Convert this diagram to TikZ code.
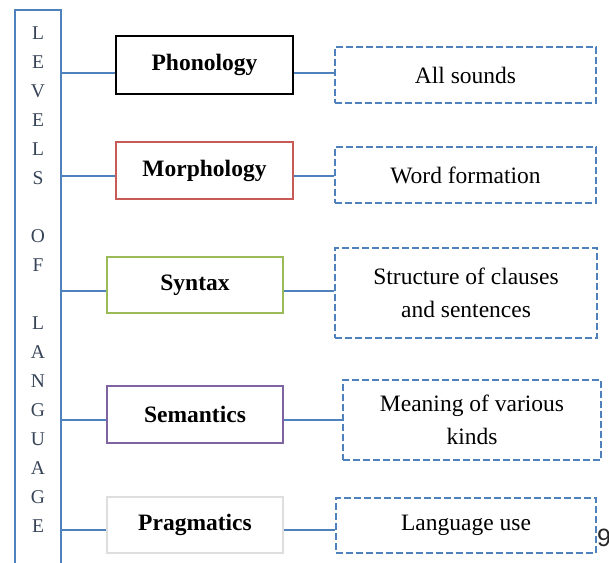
\documentclass[tikz,border=0pt]{standalone}
\usepackage{fontspec}
\setmainfont{Liberation Serif}
\newfontfamily\pagefont{Liberation Sans}
\begin{document}
\begin{tikzpicture}[x=1pt,y=-1pt,
  spinebox/.style={draw=lblue, line width=2.4pt, inner sep=0pt},
  levelbox/.style={draw, line width=2.2pt, fill=white, inner sep=0pt,
    font=\fontsize{23.5}{28}\selectfont\bfseries},
  notebox/.style={draw=lblue, dashed, dash pattern=on 7pt off 3pt, line width=1.8pt,
    inner sep=0pt, align=center, font=\fontsize{23.5}{33}\selectfont},
  link/.style={draw=lblue, line width=1.8pt}]
\definecolor{lblue}{RGB}{79,129,189}
\definecolor{lred}{RGB}{200,90,88}
\definecolor{lgreen}{RGB}{155,187,89}
\definecolor{lpurple}{RGB}{128,100,162}
\definecolor{lgray}{RGB}{222,222,222}
\definecolor{slate}{RGB}{55,68,88}
\useasboundingbox (0,0) rectangle (609,562);

% vertical spine with the spelled-out title
\node[spinebox, minimum width=46pt, minimum height=575pt] (spine) at (38,297.5) {};
\node[align=center, text=slate, font=\fontsize{19.5}{29}\selectfont] (title) at (38,279.5)
  {L\\E\\V\\E\\L\\S\\\mbox{}\\O\\F\\\mbox{}\\L\\A\\N\\G\\U\\A\\G\\E};

% levels
\node[levelbox, draw=black, minimum width=177pt, minimum height=58pt] (phon) at (204.5,65) {Phonology};
\node[levelbox, draw=lred, minimum width=177pt, minimum height=57pt] (morph) at (204.5,170.5) {Morphology};
\node[levelbox, draw=lgreen, minimum width=176pt, minimum height=56pt] (synt) at (195,285) {Syntax};
\node[levelbox, draw=lpurple, minimum width=176pt, minimum height=57pt] (sem) at (195,414.5) {Semantics};
\node[levelbox, draw=lgray, minimum width=176pt, minimum height=56pt] (prag) at (195,525) {Pragmatics};

% descriptions
\node[notebox, minimum width=261pt, minimum height=56pt] (snd) at (465.5,75) {All sounds};
\node[notebox, minimum width=261pt, minimum height=56pt] (word) at (465.5,175) {Word formation};
\node[notebox, minimum width=262pt, minimum height=90pt] (struct) at (466,293) {Structure of clauses\\and sentences};
\node[notebox, minimum width=258pt, minimum height=80pt] (mean) at (472,420) {Meaning of various\\kinds};
\node[notebox, minimum width=260pt, minimum height=55pt] (use) at (466,525.5) {Language use};

% page number
\node[anchor=west, inner sep=0pt, text=black!85, font=\pagefont\fontsize{25}{28}\selectfont] (pg) at (597,538) {9};

% connector rows
\coordinate (r1) at (0,73);
\coordinate (r2) at (0,176);
\coordinate (r3) at (0,291);
\coordinate (r4) at (0,420);
\coordinate (r5) at (0,530);

\draw[link] (spine.east |- r1) -- (phon.west |- r1);
\draw[link] (phon.east |- r1) -- (snd.west |- r1);
\draw[link] (spine.east |- r2) -- (morph.west |- r2);
\draw[link] (morph.east |- r2) -- (word.west |- r2);
\draw[link] (spine.east |- r3) -- (synt.west |- r3);
\draw[link] (synt.east |- r3) -- (struct.west |- r3);
\draw[link] (spine.east |- r4) -- (sem.west |- r4);
\draw[link] (sem.east |- r4) -- (mean.west |- r4);
\draw[link] (spine.east |- r5) -- (prag.west |- r5);
\draw[link] (prag.east |- r5) -- (use.west |- r5);
\end{tikzpicture}
\end{document}
